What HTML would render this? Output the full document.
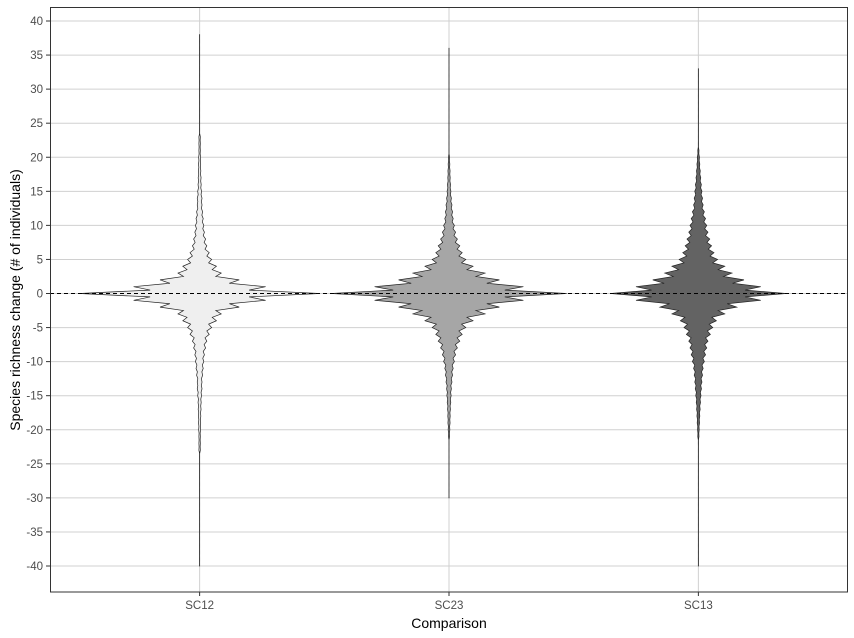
<!DOCTYPE html>
<html><head><meta charset="utf-8"><style>
body{margin:0;background:#fff}
svg{display:block;font-family:"Liberation Sans",Arial,sans-serif}
</style></head><body>
<svg id="chart" width="854" height="638">
<g id="grid"></g>
<g id="violins"></g>
<line x1="50" x2="848" y1="293.5" y2="293.5" stroke="#000" stroke-width="1" stroke-dasharray="4,3"/>
<rect x="50.5" y="7.5" width="797" height="584.5" fill="none" stroke="#333" stroke-width="1"/>
<g id="axes"></g>
<text x="449" y="628" text-anchor="middle" font-size="14" fill="#000">Comparison</text>
<text transform="translate(20,300) rotate(-90)" text-anchor="middle" font-size="14" fill="#000">Species richness change (# of individuals)</text>
</svg>
<script>
const categories=["SC12","SC23","SC13"];
const fills=["#efefef","#a6a6a6","#636363"];
const yTicks=[40,35,30,25,20,15,10,5,0,-5,-10,-15,-20,-25,-30,-35,-40];
// half-width density values for y = -40 .. 40
const sc12=[0.3,0.3,0.3,0.3,0.3,0.3,0.3,0.3,0.3,0.3,0.3,0.3,0.3,0.3,0.3,0.3,0.3,0.6,0.6,0.6,
0.8,0.9,1,1.2,1.3,1.6,2,2,2.5,3,3.5,4,5,6,8,10,14,18,33,55,
100,
55,33,18,14,10,8,6,5,4,3.5,3,2.5,2,2,1.6,1.3,1.2,1,0.9,0.8,
0.6,0.6,0.6,0.3,0.3,0.3,0.3,0.3,0.3,0.3,0.3,0.3,0.3,0.3,0.3,0.3,0.3,0.3,0];
const sc23=[0,0,0,0,0,0,0,0,0,0,0.3,0.3,0.3,0.3,0.3,0.3,0.3,0.3,0.3,0.5,
0.7,0.9,1,1.2,1.5,1.8,2,2.5,3,3.5,4.5,5.5,7,9,11,14,20,30,42,62,
98,
62,42,30,20,14,11,9,7,5.5,4.5,3.5,3,2.5,2,1.6,1.3,1,0.9,0.7,0.5,
0.3,0.3,0.3,0.3,0.3,0.3,0.3,0.3,0.3,0.3,0.3,0.3,0.3,0.3,0.3,0.3,0,0,0,0];
const sc13=[0.3,0.3,0.3,0.3,0.3,0.3,0.3,0.3,0.3,0.3,0.3,0.3,0.3,0.3,0.3,0.3,0.3,0.3,0.4,0.5,
0.7,1,1.2,1.5,1.8,2.2,2.6,3,3.5,4,5,6,7,8,10,12,15,22,32,52,
73,
52,38,28,22,16,13,11,9.5,8,7,6,5,4,3.5,3,2.5,2,1.6,1.2,0.9,
0.5,0.4,0.3,0.3,0.3,0.3,0.3,0.3,0.3,0.3,0.3,0.3,0.3,0,0,0,0,0,0,0];
const series=[sc12,sc23,sc13];

const NS="http://www.w3.org/2000/svg";
const L=50,R=848;
function yScale(v){return 293.5-v*6.8125;}
function xScale(i){return L+(R-L)*(i+0.6)/(categories.length+0.2);}
const wScale=1.2;
const grid=document.getElementById('grid'),axes=document.getElementById('axes'),vg=document.getElementById('violins');
yTicks.forEach(t=>{
  const y=yScale(t);
  const g=document.createElementNS(NS,'line');
  g.setAttribute('x1',L);g.setAttribute('x2',R);g.setAttribute('y1',y);g.setAttribute('y2',y);
  g.setAttribute('stroke','#d0d0d0');g.setAttribute('stroke-width','1');
  
  
  grid.appendChild(g);
  const tk=document.createElementNS(NS,'line');
  tk.setAttribute('x1',L-4);tk.setAttribute('x2',L);tk.setAttribute('y1',y);tk.setAttribute('y2',y);
  tk.setAttribute('stroke','#333');
  
  
  axes.appendChild(tk);
  const tx=document.createElementNS(NS,'text');
  tx.setAttribute('x',L-7);tx.setAttribute('y',y+4);tx.setAttribute('text-anchor','end');
  tx.setAttribute('font-size','11.5');tx.setAttribute('fill','#4d4d4d');
  tx.textContent=t;
  
  
  axes.appendChild(tx);
});
categories.forEach((c,i)=>{
  const x=xScale(i);
  const g=document.createElementNS(NS,'line');
  g.setAttribute('x1',x);g.setAttribute('x2',x);g.setAttribute('y1',7);g.setAttribute('y2',592);
  g.setAttribute('stroke','#d0d0d0');
  
  
  grid.appendChild(g);
  const tk=document.createElementNS(NS,'line');
  tk.setAttribute('x1',x);tk.setAttribute('x2',x);tk.setAttribute('y1',592);tk.setAttribute('y2',596);
  tk.setAttribute('stroke','#333');
  
  
  axes.appendChild(tk);
  const tx=document.createElementNS(NS,'text');
  tx.setAttribute('x',x);tx.setAttribute('y',609);tx.setAttribute('text-anchor','middle');
  tx.setAttribute('font-size','11.5');tx.setAttribute('fill','#4d4d4d');
  tx.textContent=c;
  
  
  axes.appendChild(tx);
  const d=series[i];
  let first=-1,last=-1;
  d.forEach((v,k)=>{if(v>0){if(first<0)first=k;last=k;}});
  const right=[];
  for(let k=first;k<=last;k++){
    const yv=k-40;
    right.push([Math.max(0.05,d[k]*wScale*(d[k]<0.5?0.2:1)),yScale(yv)]);
    if(k<last){
      const mn=Math.min(d[k],d[k+1]);
      const m=mn*0.75*wScale*(mn<0.5?0.2:1);
      right.push([Math.max(0.05,m),yScale(yv+0.5)]);
    }
  }
  let p='M'+x+','+yScale(first-40);
  right.forEach(pt=>{p+='L'+(x+pt[0]).toFixed(2)+','+pt[1].toFixed(2);});
  p+='L'+x+','+yScale(last-40);
  for(let j=right.length-1;j>=0;j--){p+='L'+(x-right[j][0]).toFixed(2)+','+right[j][1].toFixed(2);}
  p+='Z';
  const path=document.createElementNS(NS,'path');
  path.setAttribute('d',p);path.setAttribute('fill',fills[i]);
  path.setAttribute('stroke','#222');path.setAttribute('stroke-width','0.7');
  
  
  vg.appendChild(path);
});
</script>
</body></html>
